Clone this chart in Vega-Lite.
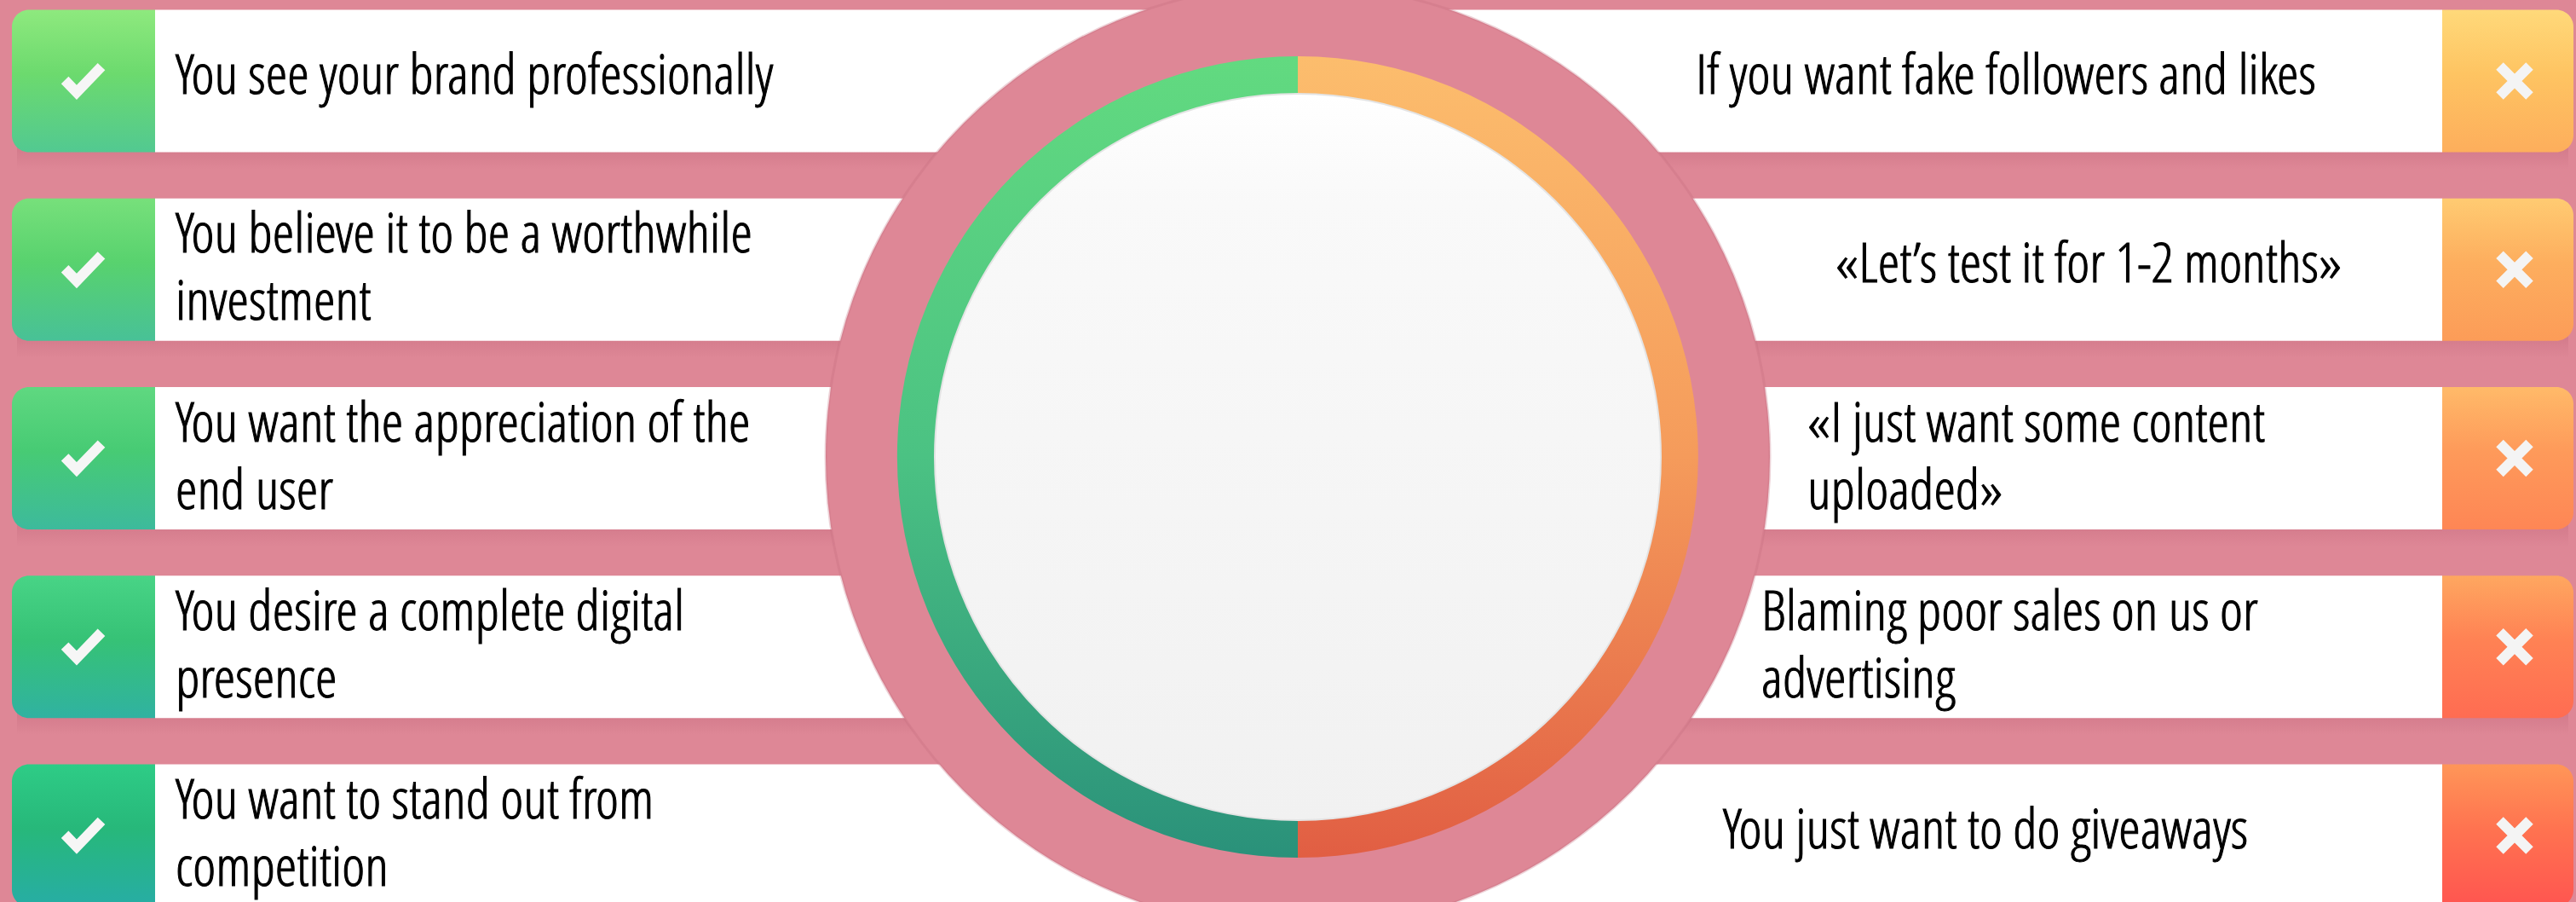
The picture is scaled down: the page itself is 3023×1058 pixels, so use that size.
{
  "$schema": "https://vega.github.io/schema/vega-lite/v6.json",
  "width": 3046,
  "height": 1072,
  "autosize": {"type": "none"},
  "padding": 0,
  "background": "#DE8796",
  "config": {"view": {"stroke": null}, "axis": {"disable": true}},
  "data": {
    "values": [
      {"side": "pro", "row": 1, "label": "You see your brand professionally"},
      {"side": "pro", "row": 2, "label": "You believe it to be a worthwhile\ninvestment"},
      {"side": "pro", "row": 3, "label": "You want the appreciation of the\nend user"},
      {"side": "pro", "row": 4, "label": "You desire a complete digital\npresence"},
      {"side": "pro", "row": 5, "label": "You want to stand out from\ncompetition"},
      {"side": "con", "row": 1, "label": "If you want fake followers and likes"},
      {"side": "con", "row": 2, "label": "«Let’s test it for 1-2 months»"},
      {"side": "con", "row": 3, "label": "«I just want some content\nuploaded»"},
      {"side": "con", "row": 4, "label": "Blaming poor sales on us or\nadvertising"},
      {"side": "con", "row": 5, "label": "You just want to do giveaways"}
    ]
  },
  "resolve": {"scale": {"x": "independent"}},
  "layer": [
    {
      "layer": [
        {
          "encoding": {
            "y": {"field": "row", "type": "ordinal", "scale": {"type": "band", "domain": [1, 2, 3, 4, 5], "range": [0, 1075], "paddingInner": 0.245, "paddingOuter": 0.0525}, "axis": null}
          },
          "layer": [
            {
              "transform": [{"filter": "datum.side == 'pro'"}],
              "mark": {"type": "rect", "yOffset": 20, "y2Offset": 20, "fill": {"gradient": "linear", "x1": 0, "y1": 0, "x2": 0, "y2": 1, "stops": [{"offset": 0, "color": "rgba(150,55,80,0.16)"}, {"offset": 0.86, "color": "rgba(150,55,80,0.14)"}, {"offset": 1, "color": "rgba(150,55,80,0)"}]}},
              "encoding": {
                "x": {"datum": 20, "type": "quantitative", "scale": {"domain": [0, 3046], "nice": false, "zero": false}, "axis": null},
                "x2": {"datum": 3014}
              }
            },
            {
              "transform": [{"filter": "datum.side == 'pro'"}],
              "mark": {"type": "rect", "fill": "#FFFFFF"},
              "encoding": {
                "x": {"datum": 182, "type": "quantitative", "scale": {"domain": [0, 3046], "nice": false, "zero": false}, "axis": null},
                "x2": {"datum": 2866}
              }
            },
            {
              "encoding": {
                "x": {"datum": 14, "type": "quantitative", "scale": {"domain": [0, 3046], "nice": false, "zero": false}, "axis": null},
                "x2": {"datum": 182}
              },
              "layer": [
                {"transform": [{"filter": "datum.side == 'pro' && datum.row == 1"}], "mark": {"type": "rect", "cornerRadiusTopLeft": 20, "cornerRadiusBottomLeft": 20, "fill": {"gradient": "linear", "x1": 0, "y1": 0, "x2": 0, "y2": 1, "stops": [{"offset": 0, "color": "#8EE97E"}, {"offset": 0.45, "color": "#6CDA6E"}, {"offset": 1, "color": "#52C991"}]}}},
                {"transform": [{"filter": "datum.side == 'pro' && datum.row == 2"}], "mark": {"type": "rect", "cornerRadiusTopLeft": 20, "cornerRadiusBottomLeft": 20, "fill": {"gradient": "linear", "x1": 0, "y1": 0, "x2": 0, "y2": 1, "stops": [{"offset": 0, "color": "#77E07B"}, {"offset": 0.45, "color": "#58D26E"}, {"offset": 1, "color": "#48C197"}]}}},
                {"transform": [{"filter": "datum.side == 'pro' && datum.row == 3"}], "mark": {"type": "rect", "cornerRadiusTopLeft": 20, "cornerRadiusBottomLeft": 20, "fill": {"gradient": "linear", "x1": 0, "y1": 0, "x2": 0, "y2": 1, "stops": [{"offset": 0, "color": "#5FD880"}, {"offset": 0.45, "color": "#47CB74"}, {"offset": 1, "color": "#3DBA9C"}]}}},
                {"transform": [{"filter": "datum.side == 'pro' && datum.row == 4"}], "mark": {"type": "rect", "cornerRadiusTopLeft": 20, "cornerRadiusBottomLeft": 20, "fill": {"gradient": "linear", "x1": 0, "y1": 0, "x2": 0, "y2": 1, "stops": [{"offset": 0, "color": "#48D486"}, {"offset": 0.45, "color": "#36C276"}, {"offset": 1, "color": "#30B2A1"}]}}},
                {"transform": [{"filter": "datum.side == 'pro' && datum.row == 5"}], "mark": {"type": "rect", "cornerRadiusTopLeft": 20, "cornerRadiusBottomLeft": 20, "fill": {"gradient": "linear", "x1": 0, "y1": 0, "x2": 0, "y2": 1, "stops": [{"offset": 0, "color": "#2ECC86"}, {"offset": 0.45, "color": "#27B87A"}, {"offset": 1, "color": "#27ADA5"}]}}}
              ]
            },
            {
              "encoding": {
                "x": {"datum": 2866, "type": "quantitative", "scale": {"domain": [0, 3046], "nice": false, "zero": false}, "axis": null},
                "x2": {"datum": 3020}
              },
              "layer": [
                {"transform": [{"filter": "datum.side == 'con' && datum.row == 1"}], "mark": {"type": "rect", "cornerRadiusTopRight": 20, "cornerRadiusBottomRight": 20, "fill": {"gradient": "linear", "x1": 0, "y1": 0, "x2": 0, "y2": 1, "stops": [{"offset": 0, "color": "#FFD97A"}, {"offset": 0.45, "color": "#FEC462"}, {"offset": 1, "color": "#FDAE5C"}]}}},
                {"transform": [{"filter": "datum.side == 'con' && datum.row == 2"}], "mark": {"type": "rect", "cornerRadiusTopRight": 20, "cornerRadiusBottomRight": 20, "fill": {"gradient": "linear", "x1": 0, "y1": 0, "x2": 0, "y2": 1, "stops": [{"offset": 0, "color": "#FFCB72"}, {"offset": 0.45, "color": "#FDAE5E"}, {"offset": 1, "color": "#FC9C58"}]}}},
                {"transform": [{"filter": "datum.side == 'con' && datum.row == 3"}], "mark": {"type": "rect", "cornerRadiusTopRight": 20, "cornerRadiusBottomRight": 20, "fill": {"gradient": "linear", "x1": 0, "y1": 0, "x2": 0, "y2": 1, "stops": [{"offset": 0, "color": "#FFBA69"}, {"offset": 0.45, "color": "#FE9A5A"}, {"offset": 1, "color": "#FE8655"}]}}},
                {"transform": [{"filter": "datum.side == 'con' && datum.row == 4"}], "mark": {"type": "rect", "cornerRadiusTopRight": 20, "cornerRadiusBottomRight": 20, "fill": {"gradient": "linear", "x1": 0, "y1": 0, "x2": 0, "y2": 1, "stops": [{"offset": 0, "color": "#FEA760"}, {"offset": 0.45, "color": "#FF8254"}, {"offset": 1, "color": "#FF6C52"}]}}},
                {"transform": [{"filter": "datum.side == 'con' && datum.row == 5"}], "mark": {"type": "rect", "cornerRadiusTopRight": 20, "cornerRadiusBottomRight": 20, "fill": {"gradient": "linear", "x1": 0, "y1": 0, "x2": 0, "y2": 1, "stops": [{"offset": 0, "color": "#FF9658"}, {"offset": 0.45, "color": "#FF7350"}, {"offset": 1, "color": "#FF5550"}]}}}
              ]
            }
          ]
        },
        {
          "transform": [{"filter": "datum.side == 'pro' && datum.row == 1"}],
          "mark": {"type": "arc", "theta": 0, "theta2": 6.2832, "radius": 554, "radius2": 0, "fill": "#DE8796", "stroke": "#C46C7E", "strokeWidth": 3, "strokeOpacity": 0.3},
          "encoding": {}
        },
        {
          "transform": [{"filter": "datum.side == 'con' && datum.row == 1"}],
          "mark": {"type": "arc", "theta": 0, "theta2": 3.14159, "radius": 470, "radius2": 424, "fill": {"gradient": "linear", "x1": 0, "y1": 0, "x2": 0, "y2": 1, "stops": [{"offset": 0, "color": "#FCBD6D"}, {"offset": 0.5, "color": "#F59B5B"}, {"offset": 1, "color": "#E15E43"}]}},
          "encoding": {}
        },
        {
          "transform": [{"filter": "datum.side == 'pro' && datum.row == 1"}],
          "mark": {"type": "arc", "theta": 3.14159, "theta2": 6.2832, "radius": 470, "radius2": 424, "fill": {"gradient": "linear", "x1": 0, "y1": 0, "x2": 0, "y2": 1, "stops": [{"offset": 0, "color": "#62DA80"}, {"offset": 0.5, "color": "#4BC283"}, {"offset": 1, "color": "#2A917A"}]}},
          "encoding": {}
        },
        {
          "transform": [{"filter": "datum.side == 'pro' && datum.row == 1"}],
          "mark": {"type": "arc", "theta": 0, "theta2": 6.2832, "radius": 426, "radius2": 0, "stroke": "#E4E4E4", "strokeWidth": 2, "fill": {"gradient": "linear", "x1": 0, "y1": 0, "x2": 0, "y2": 1, "stops": [{"offset": 0, "color": "#FFFFFF"}, {"offset": 0.15, "color": "#F9F9F9"}, {"offset": 1, "color": "#F1F1F1"}]}},
          "encoding": {}
        },
        {
          "encoding": {
            "y": {"field": "row", "type": "ordinal", "scale": {"type": "band", "domain": [1, 2, 3, 4, 5], "range": [0, 1075], "paddingInner": 0.245, "paddingOuter": 0.0525}, "axis": null}
          },
          "layer": [
            {
              "transform": [{"filter": "datum.side == 'pro'"}],
              "mark": {"type": "point", "shape": "M -0.95 -0.05 L -0.32 0.6 L 1 -0.77", "filled": false, "stroke": "#F6F6F6", "strokeWidth": 12, "size": 1936, "opacity": 1},
              "encoding": {
                "x": {"datum": 97, "type": "quantitative", "scale": {"domain": [0, 3046], "nice": false, "zero": false}, "axis": null}
              }
            },
            {
              "transform": [{"filter": "datum.side == 'con'"}],
              "mark": {"type": "point", "shape": "M -1 -1 L 1 1 M -1 1 L 1 -1", "filled": false, "stroke": "#F4F4F4", "strokeWidth": 12, "size": 1225, "opacity": 1},
              "encoding": {
                "x": {"datum": 2951, "type": "quantitative", "scale": {"domain": [0, 3046], "nice": false, "zero": false}, "axis": null}
              }
            },
            {
              "encoding": {
                "x": {"datum": 206, "type": "quantitative", "scale": {"domain": [0, 3046], "nice": false, "zero": false}, "axis": null},
                "text": {"field": "label"}
              },
              "layer": [
                {
                  "transform": [{"filter": "datum.side == 'pro' && indexof(datum.label, '\\n') < 0"}],
                  "mark": {"type": "text", "align": "left", "baseline": "middle", "font": "Open Sans Condensed Light, Noto Sans Condensed Light, Noto Sans Condensed, Open Sans Condensed, DejaVu Sans Condensed, sans-serif", "fontWeight": 300, "fontSize": 65, "lineHeight": 79, "lineBreak": "\n", "color": "#000000", "stroke": "#000000", "strokeWidth": 1, "dy": -5}
                },
                {
                  "transform": [{"filter": "datum.side == 'pro' && indexof(datum.label, '\\n') >= 0"}],
                  "mark": {"type": "text", "align": "left", "baseline": "middle", "font": "Open Sans Condensed Light, Noto Sans Condensed Light, Noto Sans Condensed, Open Sans Condensed, DejaVu Sans Condensed, sans-serif", "fontWeight": 300, "fontSize": 65, "lineHeight": 79, "lineBreak": "\n", "color": "#000000", "stroke": "#000000", "strokeWidth": 1, "dy": -40}
                }
              ]
            }
          ]
        }
      ]
    },
    {
      "encoding": {
        "y": {"field": "row", "type": "ordinal", "scale": {"type": "band", "domain": [1, 2, 3, 4, 5], "range": [0, 1075], "paddingInner": 0.245, "paddingOuter": 0.0525}, "axis": null},
        "x": {"field": "row", "type": "quantitative", "scale": {"domain": [1, 2, 3, 4, 5], "range": [1990, 2154, 2121, 2067, 2022], "nice": false, "zero": false}, "axis": null},
        "text": {"field": "label"}
      },
      "layer": [
        {
          "transform": [{"filter": "datum.side == 'con' && indexof(datum.label, '\\n') < 0"}],
          "mark": {"type": "text", "align": "left", "baseline": "middle", "font": "Open Sans Condensed Light, Noto Sans Condensed Light, Noto Sans Condensed, Open Sans Condensed, DejaVu Sans Condensed, sans-serif", "fontWeight": 300, "fontSize": 65, "lineHeight": 79, "lineBreak": "\n", "color": "#000000", "stroke": "#000000", "strokeWidth": 1, "dy": -5}
        },
        {
          "transform": [{"filter": "datum.side == 'con' && indexof(datum.label, '\\n') >= 0"}],
          "mark": {"type": "text", "align": "left", "baseline": "middle", "font": "Open Sans Condensed Light, Noto Sans Condensed Light, Noto Sans Condensed, Open Sans Condensed, DejaVu Sans Condensed, sans-serif", "fontWeight": 300, "fontSize": 65, "lineHeight": 79, "lineBreak": "\n", "color": "#000000", "stroke": "#000000", "strokeWidth": 1, "dy": -40}
        }
      ]
    }
  ]
}
